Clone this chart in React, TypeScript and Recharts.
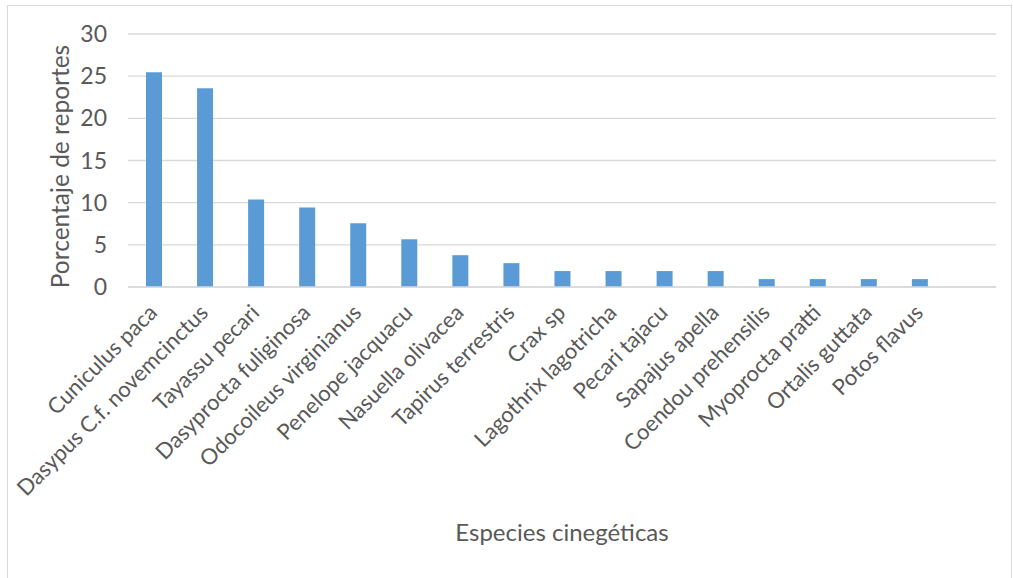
import { BarChart, Bar, XAxis, YAxis, CartesianGrid, Label } from 'recharts';

const species = [
    'Cuniculus paca',
    'Dasypus C.f. novemcinctus',
    'Tayassu pecari',
    'Dasyprocta fuliginosa',
    'Odocoileus virginianus',
    'Penelope jacquacu',
    'Nasuella olivacea',
    'Tapirus terrestris',
    'Crax sp',
    'Lagothrix lagotricha',
    'Pecari tajacu',
    'Sapajus apella',
    'Coendou prehensilis',
    'Myoprocta pratti',
    'Ortalis guttata',
    'Potos flavus',
    '',
];

const percentages = [25.47, 23.58, 10.38, 9.43, 7.55, 5.66, 3.77, 2.83, 1.89, 1.89, 1.89, 1.89, 0.94, 0.94, 0.94, 0.94, null];

const yTicks = [0, 5, 10, 15, 20, 25, 30];

const FONT = 'Lato, "Open Sans", sans-serif';
const TEXT = '#595959';

const data = species.map((name, i) => ({ name, value: percentages[i] }));

const SpeciesTick = ({ x, y, payload }: any) => {
    if (!payload.value) return null;
    return (
        <text
            x={x + 5}
            y={y + 19}
            transform={`rotate(-45 ${x + 5} ${y + 19})`}
            textAnchor="end"
            fill={TEXT}
            fontSize={22}
            fontFamily={FONT}
        >
            {payload.value}
        </text>
    );
};

export default function App() {
    return (
        <div style={{ position: 'absolute', left: 0, top: 0, width: 1013, height: 578, overflow: 'hidden', background: '#fff' }}>
            <div style={{ position: 'absolute', left: 7, top: 5, width: 1003, height: 620, border: '1px solid #d9d9d9' }} />
            <div style={{ position: 'absolute', left: 0, top: 0 }}>
                <BarChart
                    width={1013}
                    height={578}
                    data={data}
                    margin={{ top: 34, right: 17, left: 0, bottom: 0 }}
                    barCategoryGap={0}
                >
                    <CartesianGrid stroke="#d9d9d9" strokeWidth={1.3} vertical={false} />
                    <XAxis
                        dataKey="name"
                        interval={0}
                        height={291}
                        tickLine={false}
                        axisLine={{ stroke: '#d9d9d9', strokeWidth: 1.3 }}
                        tick={<SpeciesTick />}
                    >
                        <Label
                            value="Especies cinegéticas"
                            position="insideBottom"
                            offset={37}
                            fill={TEXT}
                            fontSize={24}
                            fontFamily={FONT}
                        />
                    </XAxis>
                    <YAxis
                        width={128}
                        domain={[0, 30]}
                        ticks={yTicks}
                        tickLine={false}
                        axisLine={false}
                        tickMargin={15}
                        tick={{ fill: TEXT, fontSize: 23, fontFamily: FONT }}
                    >
                        <Label
                            value="Porcentaje de reportes"
                            angle={-90}
                            position="insideLeft"
                            offset={60}
                            dy={6}
                            fill={TEXT}
                            fontSize={24.5}
                            fontFamily={FONT}
                            style={{ textAnchor: 'middle' }}
                        />
                    </YAxis>
                    <Bar dataKey="value" fill="#5b9bd5" barSize={16} isAnimationActive={false} />
                </BarChart>
            </div>
        </div>
    );
}
